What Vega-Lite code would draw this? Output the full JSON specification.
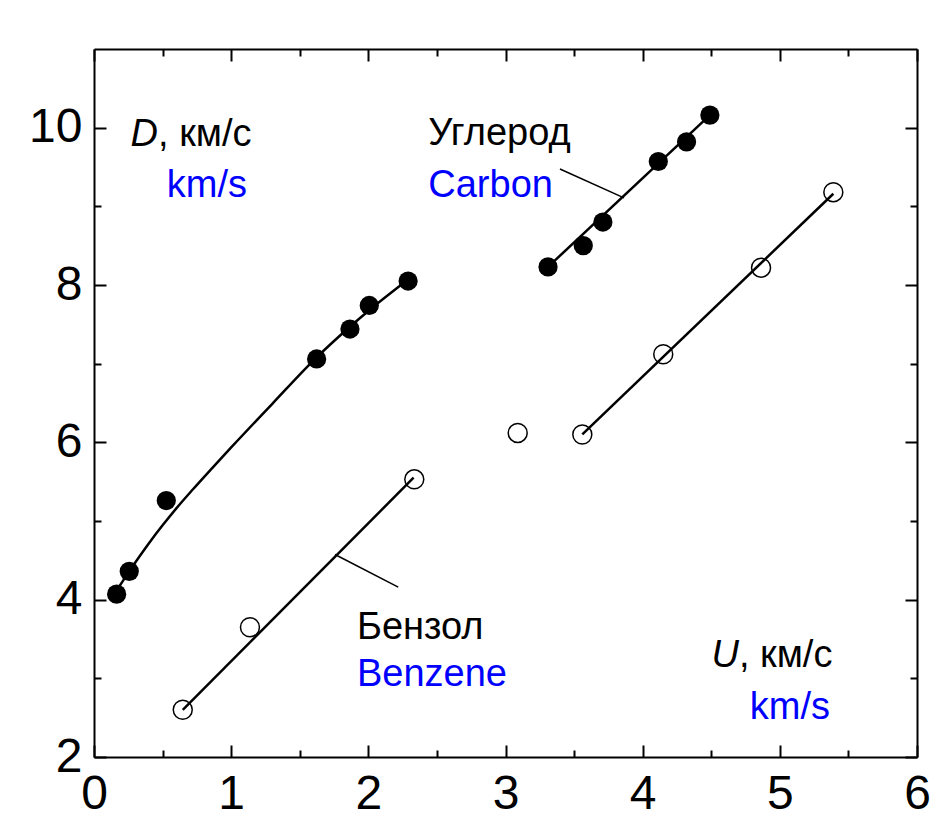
{
  "$schema": "https://vega.github.io/schema/vega-lite/v6.json",
  "width": 823,
  "height": 708,
  "autosize": "none",
  "padding": {"left": 94, "top": 49, "right": 21, "bottom": 64},
  "background": "white",
  "config": {"view": {"stroke": null}, "font": "Liberation Sans, Arial, sans-serif"},
  "datasets": {
    "points": [
      {"series": "Benzene", "type": "filled", "U": 0.165, "D": 4.07},
      {"series": "Benzene", "type": "filled", "U": 0.257, "D": 4.36},
      {"series": "Benzene", "type": "filled", "U": 0.527, "D": 5.26},
      {"series": "Benzene", "type": "filled", "U": 1.623, "D": 7.06},
      {"series": "Benzene", "type": "filled", "U": 1.866, "D": 7.44},
      {"series": "Benzene", "type": "filled", "U": 2.007, "D": 7.74},
      {"series": "Benzene", "type": "filled", "U": 2.29, "D": 8.05},
      {"series": "Benzene", "type": "open", "U": 0.647, "D": 2.6},
      {"series": "Benzene", "type": "open", "U": 1.137, "D": 3.65},
      {"series": "Benzene", "type": "open", "U": 2.335, "D": 5.53},
      {"series": "Carbon", "type": "filled", "U": 3.31, "D": 8.23},
      {"series": "Carbon", "type": "filled", "U": 3.567, "D": 8.5},
      {"series": "Carbon", "type": "filled", "U": 3.71, "D": 8.8},
      {"series": "Carbon", "type": "filled", "U": 4.114, "D": 9.57},
      {"series": "Carbon", "type": "filled", "U": 4.32, "D": 9.82},
      {"series": "Carbon", "type": "filled", "U": 4.49, "D": 10.16},
      {"series": "Carbon", "type": "open", "U": 3.089, "D": 6.12},
      {"series": "Carbon", "type": "open", "U": 3.56, "D": 6.1},
      {"series": "Carbon", "type": "open", "U": 4.15, "D": 7.12},
      {"series": "Carbon", "type": "open", "U": 4.863, "D": 8.22},
      {"series": "Carbon", "type": "open", "U": 5.39, "D": 9.18}
    ],
    "fits": [
      {"line": "benzene_filled", "U": 0.185, "D": 4.17},
      {"line": "benzene_filled", "U": 0.257, "D": 4.36},
      {"line": "benzene_filled", "U": 0.33, "D": 4.545},
      {"line": "benzene_filled", "U": 0.41, "D": 4.74},
      {"line": "benzene_filled", "U": 0.5, "D": 4.945},
      {"line": "benzene_filled", "U": 0.6, "D": 5.16},
      {"line": "benzene_filled", "U": 0.72, "D": 5.4},
      {"line": "benzene_filled", "U": 0.86, "D": 5.67},
      {"line": "benzene_filled", "U": 1.0, "D": 5.935},
      {"line": "benzene_filled", "U": 1.3, "D": 6.49},
      {"line": "benzene_filled", "U": 1.623, "D": 7.08},
      {"line": "benzene_filled", "U": 1.866, "D": 7.47},
      {"line": "benzene_filled", "U": 2.0, "D": 7.67},
      {"line": "benzene_filled", "U": 2.29, "D": 8.07},
      {"line": "benzene_open", "U": 0.647, "D": 2.6},
      {"line": "benzene_open", "U": 2.33, "D": 5.55},
      {"line": "carbon_filled", "U": 3.31, "D": 8.23},
      {"line": "carbon_filled", "U": 4.49, "D": 10.16},
      {"line": "carbon_open", "U": 3.56, "D": 6.1},
      {"line": "carbon_open", "U": 5.39, "D": 9.16}
    ],
    "leaders": [
      {"line": "carbon", "U": 3.397, "D": 9.475},
      {"line": "carbon", "U": 3.864, "D": 9.107},
      {"line": "benzene", "U": 1.757, "D": 4.574},
      {"line": "benzene", "U": 2.218, "D": 4.16}
    ],
    "labels": [
      {"text": "D", "kind": "italic", "lang": "ru", "U": 0.467, "D": 9.77},
      {"text": ", км/с", "kind": "left", "lang": "ru", "U": 0.467, "D": 9.77},
      {"text": "km/s", "kind": "right", "lang": "en", "U": 1.115, "D": 9.12},
      {"text": "Углерод", "kind": "left", "lang": "ru", "U": 2.437, "D": 9.78},
      {"text": "Carbon", "kind": "left", "lang": "en", "U": 2.437, "D": 9.12},
      {"text": "Бензол", "kind": "left", "lang": "ru", "U": 1.917, "D": 3.494},
      {"text": "Benzene", "kind": "left", "lang": "en", "U": 1.917, "D": 2.897},
      {"text": "U", "kind": "italic", "lang": "ru", "U": 4.702, "D": 3.15},
      {"text": ", км/с", "kind": "left", "lang": "ru", "U": 4.702, "D": 3.15},
      {"text": "km/s", "kind": "right", "lang": "en", "U": 5.366, "D": 2.48}
    ]
  },
  "encoding": {
    "x": {"field": "U", "type": "quantitative", "scale": {"domain": [0, 6], "nice": false, "zero": false}},
    "y": {"field": "D", "type": "quantitative", "scale": {"domain": [2, 11], "nice": false, "zero": false}}
  },
  "resolve": {"axis": {"x": "independent", "y": "independent"}},
  "layer": [
    {
      "data": {"name": "points"},
      "mark": {"type": "point", "opacity": 0},
      "encoding": {
        "x": {"field": "U", "type": "quantitative", "axis": {"orient": "bottom", "values": [0, 1, 2, 3, 4, 5, 6], "title": null, "grid": false, "domainColor": "black", "domainWidth": 2, "tickColor": "black", "tickWidth": 2, "tickSize": -12, "labelFont": "Liberation Sans, Arial, sans-serif", "labelFontSize": 48, "labelColor": "black", "labelPadding": 25, "labelFlush": false, "labelOverlap": false}},
        "y": {"field": "D", "type": "quantitative", "axis": {"orient": "left", "values": [2, 4, 6, 8, 10], "title": null, "grid": false, "domainColor": "black", "domainWidth": 2, "tickColor": "black", "tickWidth": 2, "tickSize": -12, "labelFont": "Liberation Sans, Arial, sans-serif", "labelFontSize": 48, "labelColor": "black", "labelPadding": 24, "labelFlush": false, "labelOverlap": false}}
      }
    },
    {
      "data": {"name": "points"},
      "mark": {"type": "point", "opacity": 0},
      "encoding": {
        "x": {"field": "U", "type": "quantitative", "axis": {"orient": "top", "values": [0, 1, 2, 3, 4, 5, 6], "title": null, "grid": false, "labels": false, "domainColor": "black", "domainWidth": 2, "tickColor": "black", "tickWidth": 2, "tickSize": -12}},
        "y": {"field": "D", "type": "quantitative", "axis": {"orient": "right", "values": [2, 4, 6, 8, 10], "title": null, "grid": false, "labels": false, "domainColor": "black", "domainWidth": 2, "tickColor": "black", "tickWidth": 2, "tickSize": -12}}
      }
    },
    {
      "data": {"name": "points"},
      "mark": {"type": "point", "opacity": 0},
      "encoding": {
        "x": {"field": "U", "type": "quantitative", "axis": {"orient": "bottom", "values": [0.5, 1.5, 2.5, 3.5, 4.5, 5.5], "title": null, "grid": false, "labels": false, "domain": false, "tickColor": "black", "tickWidth": 2, "tickSize": -7}},
        "y": {"field": "D", "type": "quantitative", "axis": {"orient": "left", "values": [3, 5, 7, 9], "title": null, "grid": false, "labels": false, "domain": false, "tickColor": "black", "tickWidth": 2, "tickSize": -7}}
      }
    },
    {
      "data": {"name": "points"},
      "mark": {"type": "point", "opacity": 0},
      "encoding": {
        "x": {"field": "U", "type": "quantitative", "axis": {"orient": "top", "values": [0.5, 1.5, 2.5, 3.5, 4.5, 5.5], "title": null, "grid": false, "labels": false, "domain": false, "tickColor": "black", "tickWidth": 2, "tickSize": -7}},
        "y": {"field": "D", "type": "quantitative", "axis": {"orient": "right", "values": [3, 5, 7, 9], "title": null, "grid": false, "labels": false, "domain": false, "tickColor": "black", "tickWidth": 2, "tickSize": -7}}
      }
    },
    {
      "encoding": {
        "x": {"field": "U", "type": "quantitative", "axis": null},
        "y": {"field": "D", "type": "quantitative", "axis": null}
      },
      "layer": [
        {
          "data": {"name": "fits"},
          "mark": {"type": "line", "color": "black", "strokeWidth": 2.5, "interpolate": "monotone"},
          "encoding": {"detail": {"field": "line"}}
        },
        {
          "data": {"name": "leaders"},
          "mark": {"type": "line", "color": "black", "strokeWidth": 1.5},
          "encoding": {"detail": {"field": "line"}}
        },
        {
          "data": {"name": "points"},
          "transform": [{"filter": "datum.type === 'filled'"}],
          "mark": {"type": "point", "shape": "circle", "filled": true, "color": "black", "opacity": 1, "size": 370}
        },
        {
          "data": {"name": "points"},
          "transform": [{"filter": "datum.type === 'open'"}],
          "mark": {"type": "point", "shape": "circle", "filled": false, "stroke": "black", "strokeWidth": 1.5, "opacity": 1, "size": 360}
        },
        {
          "data": {"name": "labels"},
          "transform": [{"filter": "datum.kind === 'left'"}],
          "mark": {"type": "text", "align": "left", "baseline": "alphabetic", "font": "Liberation Sans, Arial, sans-serif", "fontSize": 38},
          "encoding": {"text": {"field": "text"}, "color": {"field": "lang", "type": "nominal", "scale": {"domain": ["ru", "en"], "range": ["black", "#0000ff"]}, "legend": null}}
        },
        {
          "data": {"name": "labels"},
          "transform": [{"filter": "datum.kind === 'right'"}],
          "mark": {"type": "text", "align": "right", "baseline": "alphabetic", "font": "Liberation Sans, Arial, sans-serif", "fontSize": 38},
          "encoding": {"text": {"field": "text"}, "color": {"field": "lang", "type": "nominal", "scale": {"domain": ["ru", "en"], "range": ["black", "#0000ff"]}, "legend": null}}
        },
        {
          "data": {"name": "labels"},
          "transform": [{"filter": "datum.kind === 'italic'"}],
          "mark": {"type": "text", "align": "right", "baseline": "alphabetic", "font": "Liberation Sans, Arial, sans-serif", "fontStyle": "italic", "fontSize": 38},
          "encoding": {"text": {"field": "text"}, "color": {"field": "lang", "type": "nominal", "scale": {"domain": ["ru", "en"], "range": ["black", "#0000ff"]}, "legend": null}}
        }
      ]
    }
  ]
}
